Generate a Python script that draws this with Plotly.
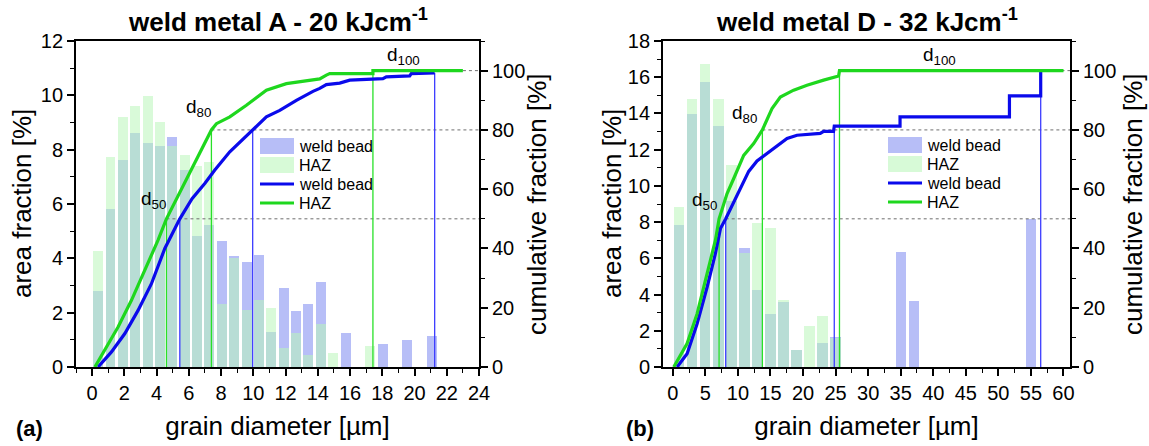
import plotly.graph_objects as go

# ---------------- data: weld metal A (20 kJ/cm) ----------------
bins_A = [0.37, 1.14, 1.91, 2.67, 3.44, 4.21, 4.98, 5.74, 6.51, 7.28, 8.05, 8.81, 9.58, 10.35,
          11.12, 11.88, 12.65, 13.42, 14.19, 14.95, 15.72, 16.49, 17.26, 18.02, 18.79, 19.56, 20.33, 21.09]
weld_A = [2.79, 5.81, 7.62, 8.60, 8.23, 8.13, 8.45, 7.25, 4.82, 5.22, 4.64, 4.08, 3.86, 4.14,
          1.29, 2.90, 2.05, 2.33, 3.13, 0, 1.25, 0, 0, 0.84, 0, 0.98, 0, 1.15]
haz_A = [4.26, 7.74, 9.19, 9.61, 9.98, 9.02, 8.13, 7.79, 7.40, 7.55, 2.31, 4.03, 2.11, 2.48,
         2.17, 0.69, 1.27, 0.43, 1.59, 0.53, 0, 0, 0.77, 0, 0, 0, 0, 0]

cum_haz_A_x = [0.17, 0.79, 1.61, 2.44, 3.27, 4.09, 4.61, 5.4, 6.2, 6.8, 7.40, 7.71, 8.54, 9.57,
               10.81, 12.05, 13.29, 14.12, 14.53, 14.74, 17.42, 17.42, 23.0]
cum_haz_A_y = [0, 5.6, 13.5, 22.5, 32.6, 42.8, 50.0, 58.5, 67.0, 73.5, 80.0, 82.1, 84.4, 88.3,
               93.4, 95.6, 96.4, 97.2, 98.5, 99.0, 99.0, 100, 100]
cum_weld_A_x = [0.37, 1.20, 2.03, 2.85, 3.68, 4.51, 5.44, 6.2, 7.0, 7.6, 8.54, 9.96, 10.81, 11.64,
                12.67, 13.70, 14.12, 14.53, 15.36, 15.98, 18.04, 18.25, 19.70, 19.80, 21.25]
cum_weld_A_y = [0, 5.1, 11.3, 19.1, 28.1, 40.0, 50.0, 56.8, 62.0, 66.4, 72.6, 80.0, 84.4, 86.6,
                90.0, 93.0, 94.0, 95.3, 95.8, 96.8, 97.3, 97.9, 98.2, 99.0, 99.2]

d_haz_A = [4.61, 7.40, 17.42]
d_weld_A = [5.44, 9.96, 21.25]
d_level_haz_A = [50, 80, 100]
d_level_weld_A = [50, 80, 99.2]

# ---------------- data: weld metal D (32 kJ/cm) ----------------
bins_D = [1, 3, 5, 7, 9, 11, 13, 15, 17, 19, 21, 23, 25, 27, 29, 31, 33, 35, 37, 39, 41, 43, 45,
          47, 49, 51, 53, 55]
weld_D = [7.83, 13.95, 15.75, 13.30, 9.15, 6.56, 4.24, 2.93, 3.60, 0.92, 0, 1.35, 1.66, 0, 0, 0, 0,
          6.36, 3.63, 0, 0, 0, 0, 0, 0, 0, 0, 8.16]
haz_D = [8.81, 14.78, 16.73, 14.78, 11.15, 6.30, 7.96, 7.67, 3.72, 0.92, 2.25, 2.82, 1.60, 0, 0, 0, 0,
         0, 0, 0, 0, 0, 0, 0, 0, 0, 0, 0]

cum_haz_D_x = [0.15, 2.2, 3.74, 5.28, 6.55, 7.11, 8.34, 9.36, 10.89, 12.42, 13.76, 15.24, 16.52,
               18.56, 20.61, 23.16, 25.46, 25.6, 60.0]
cum_haz_D_y = [0, 7.9, 18.0, 31.5, 42.8, 50.0, 58.5, 63.6, 71.4, 75.4, 80.0, 87.2, 91.1,
               93.4, 95.1, 96.8, 98.2, 100, 100]
cum_weld_D_x = [0.67, 2.2, 3.74, 5.28, 6.55, 7.32, 8.13, 9.11, 10.1, 11.66, 12.94, 13.96, 15.49,
                17.55, 19.08, 22.65, 23.16, 24.69, 24.8, 34.9, 34.9, 51.7, 51.7, 56.5, 56.5]
cum_weld_D_y = [0, 4.5, 14.6, 27.0, 38.3, 46.7, 50.0, 54.6, 59.0, 66.0, 69.5, 71.2, 73.9,
                77.1, 78.2, 78.8, 79.5, 79.5, 81.3, 81.3, 84.4, 84.4, 91.5, 91.5, 100]

d_haz_D = [7.11, 13.76, 25.6]
d_weld_D = [8.13, 24.8, 56.5]
d_level_haz_D = [50, 80, 100]
d_level_weld_D = [50, 80, 100]

# ---------------- styling ----------------
FONT = "Arial, Liberation Sans, sans-serif"
BLUE_BAR = "rgb(183,190,247)"
GREEN_BAR = "rgba(186,246,186,0.55)"
BLUE = "rgb(10,10,235)"
GREEN = "rgb(30,215,30)"
THIN_BLUE = "rgb(60,60,255)"
THIN_GREEN = "rgb(40,225,40)"

fig = go.Figure()

panels = [
    dict(xa="x", ya="y", ya2="y2", bins=bins_A, weld=weld_A, haz=haz_A, bw=0.62,
         chx=cum_haz_A_x, chy=cum_haz_A_y, cwx=cum_weld_A_x, cwy=cum_weld_A_y,
         dh=d_haz_A, dw=d_weld_A, lh=d_level_haz_A, lw=d_level_weld_A, xmax=24,
         dash_start=[d_haz_A[0], d_haz_A[1], d_haz_A[2]]),
    dict(xa="x2", ya="y3", ya2="y4", bins=bins_D, weld=weld_D, haz=haz_D, bw=1.58,
         chx=cum_haz_D_x, chy=cum_haz_D_y, cwx=cum_weld_D_x, cwy=cum_weld_D_y,
         dh=d_haz_D, dw=d_weld_D, lh=d_level_haz_D, lw=d_level_weld_D, xmax=61,
         dash_start=[d_weld_D[0], d_haz_D[1], d_haz_D[2]]),
]

for p in panels:
    fig.add_trace(go.Bar(x=p["bins"], y=p["weld"], width=p["bw"], marker_color=BLUE_BAR,
                         marker_line_width=0, name="weld bead", showlegend=False,
                         xaxis=p["xa"], yaxis=p["ya"]))
    fig.add_trace(go.Bar(x=p["bins"], y=p["haz"], width=p["bw"], marker_color=GREEN_BAR,
                         marker_line_width=0, name="HAZ", showlegend=False,
                         xaxis=p["xa"], yaxis=p["ya"]))
    for xs, lev in zip(p["dash_start"], [50, 80, 100]):
        fig.add_trace(go.Scatter(x=[xs, p["xmax"]], y=[lev, lev], mode="lines",
                                 line=dict(color="rgb(110,110,110)", width=1, dash="3px,3px"),
                                 showlegend=False, hoverinfo="skip",
                                 xaxis=p["xa"], yaxis=p["ya2"]))
    for d, lev in zip(p["dh"], p["lh"]):
        fig.add_trace(go.Scatter(x=[d, d], y=[0, lev], mode="lines",
                                 line=dict(color=THIN_GREEN, width=1.3), showlegend=False,
                                 hoverinfo="skip", xaxis=p["xa"], yaxis=p["ya2"]))
    for d, lev in zip(p["dw"], p["lw"]):
        fig.add_trace(go.Scatter(x=[d, d], y=[0, lev], mode="lines",
                                 line=dict(color=THIN_BLUE, width=1.3), showlegend=False,
                                 hoverinfo="skip", xaxis=p["xa"], yaxis=p["ya2"]))
    fig.add_trace(go.Scatter(x=p["cwx"], y=p["cwy"], mode="lines", name="weld bead",
                             line=dict(color=BLUE, width=3.2), showlegend=False,
                             xaxis=p["xa"], yaxis=p["ya2"]))
    fig.add_trace(go.Scatter(x=p["chx"], y=p["chy"], mode="lines", name="HAZ",
                             line=dict(color=GREEN, width=3.2), showlegend=False,
                             xaxis=p["xa"], yaxis=p["ya2"]))

W, H = 1149, 446
ydom = [1 - 367 / H, 1 - 41 / H]
xdomA = [76 / W, 479 / W]
xdomD = [663 / W, 1070 / W]

tickfont = dict(family=FONT, size=20, color="black")
titlefont = dict(family=FONT, size=26, color="black")

def xaxis(dom, rng, dtick, mdtick, anchor):
    return dict(domain=dom, range=rng, anchor=anchor, dtick=dtick, tick0=0,
                ticks="outside", ticklen=7, tickwidth=1.5, tickcolor="black",
                minor=dict(dtick=mdtick, tick0=0, ticks="outside", ticklen=4, tickwidth=1.2,
                           tickcolor="black"),
                showline=True, linecolor="black", linewidth=1.8, mirror=True,
                showgrid=False, zeroline=False, tickfont=tickfont, automargin=False,
                title=dict(text="grain diameter [\u00b5m]", font=titlefont, standoff=14))

def yleft(dom, rng, anchor):
    return dict(domain=dom, range=rng, anchor=anchor, dtick=2, tick0=0,
                ticks="outside", ticklen=7, tickwidth=1.5, tickcolor="black",
                minor=dict(dtick=1, tick0=0, ticks="outside", ticklen=4, tickwidth=1.2,
                           tickcolor="black"),
                showline=True, linecolor="black", linewidth=1.8,
                showgrid=False, zeroline=False, tickfont=tickfont, automargin=False)

def yright(overlay, anchor):
    return dict(overlaying=overlay, side="right", anchor=anchor, range=[0, 110],
                tickvals=[0, 20, 40, 60, 80, 100],
                ticks="outside", ticklen=7, tickwidth=1.5, tickcolor="black",
                minor=dict(dtick=10, tick0=0, ticks="outside", ticklen=4, tickwidth=1.2,
                           tickcolor="black"),
                showline=True, linecolor="black", linewidth=1.8,
                showgrid=False, zeroline=False, tickfont=tickfont, automargin=False)

fig.update_layout(
    width=W, height=H, template="none",
    margin=dict(l=0, r=0, t=0, b=0),
    paper_bgcolor="white", plot_bgcolor="rgba(0,0,0,0)",
    font=dict(family=FONT, color="black"),
    barmode="overlay", bargap=0,
    showlegend=False,
    xaxis=xaxis(xdomA, [-1, 24], 2, 1, "y"),
    yaxis=yleft(ydom, [0, 12], "x"),
    yaxis2=yright("y", "x"),
    xaxis2=xaxis(xdomD, [-1.5, 61], 5, 2.5, "y3"),
    yaxis3=yleft(ydom, [0, 18], "x2"),
    yaxis4=yright("y3", "x2"),
)

annotations = []
shapes = []

for dom, txt, lab, labx in [(xdomA, "weld metal A - 20 kJcm<sup>-1</sup>", "(a)", 29 / W),
                            (xdomD, "weld metal D - 32 kJcm<sup>-1</sup>", "(b)", 640 / W)]:
    annotations.append(dict(x=(dom[0] + dom[1]) / 2, y=1 - 20 / H, xref="paper", yref="paper",
                            xanchor="center", yanchor="middle",
                            text="<b>" + txt + "</b>", showarrow=False,
                            font=dict(family=FONT, size=26, color="black")))
    annotations.append(dict(x=labx, y=1 - 428 / H, xref="paper", yref="paper",
                            xanchor="center", yanchor="middle",
                            text="<b>" + lab + "</b>", showarrow=False,
                            font=dict(family=FONT, size=22, color="black")))

# vertical axis titles
ymid = (ydom[0] + ydom[1]) / 2
for xpx, txt in [(22, "area fraction [%]"), (537, "cumulative fraction [%]"),
                 (612, "area fraction [%]"), (1133, "cumulative fraction [%]")]:
    annotations.append(dict(x=xpx / W, y=ymid, xref="paper", yref="paper", textangle=-90,
                            xanchor="center", yanchor="middle", text=txt, showarrow=False,
                            font=titlefont))

dlabels = [
    ("x", "y2", 3.8, 56.5, "d<sub>50</sub>"),
    ("x", "y2", 6.6, 87.5, "d<sub>80</sub>"),
    ("x", "y2", 19.3, 105.0, "d<sub>100</sub>"),
    ("x2", "y4", 4.9, 56.0, "d<sub>50</sub>"),
    ("x2", "y4", 11.0, 85.5, "d<sub>80</sub>"),
    ("x2", "y4", 41.0, 105.0, "d<sub>100</sub>"),
]
for xr, yr, xv, yv, t in dlabels:
    annotations.append(dict(x=xv, y=yv, xref=xr, yref=yr, text=t, showarrow=False,
                            xanchor="center", yanchor="middle",
                            font=dict(family=FONT, size=19, color="black")))

legend_items = [("bar", BLUE_BAR, "weld bead"), ("bar", "rgb(215,250,215)", "HAZ"),
                ("line", BLUE, "weld bead"), ("line", GREEN, "HAZ")]
for xa, ya, x0px, rows, dom in [("x", "y", 260, [146, 165, 184, 203], xdomA),
                                ("x2", "y3", 888, [145, 164, 183, 202], xdomD)]:
    pw = (dom[1] - dom[0]) * W
    fx = lambda px: (px - dom[0] * W) / pw
    fy = lambda py: (367 - py) / 326
    for (kind, col, label), ry in zip(legend_items, rows):
        if kind == "bar":
            shapes.append(dict(type="rect", xref=xa + " domain", yref=ya + " domain",
                               x0=fx(x0px), x1=fx(x0px + 34), y0=fy(ry + 8), y1=fy(ry - 8),
                               fillcolor=col, line=dict(width=0)))
        else:
            shapes.append(dict(type="line", xref=xa + " domain", yref=ya + " domain",
                               x0=fx(x0px), x1=fx(x0px + 34), y0=fy(ry), y1=fy(ry),
                               line=dict(color=col, width=3.2)))
        annotations.append(dict(x=fx(x0px + 37), y=fy(ry), xref=xa + " domain",
                                yref=ya + " domain", xanchor="left", yanchor="middle",
                                text=label, showarrow=False,
                                font=dict(family=FONT, size=16, color="black")))

fig.update_layout(annotations=annotations, shapes=shapes)
fig.write_html("out.html", post_script="document.body.style.margin='0';",
               config={"displayModeBar": False})
